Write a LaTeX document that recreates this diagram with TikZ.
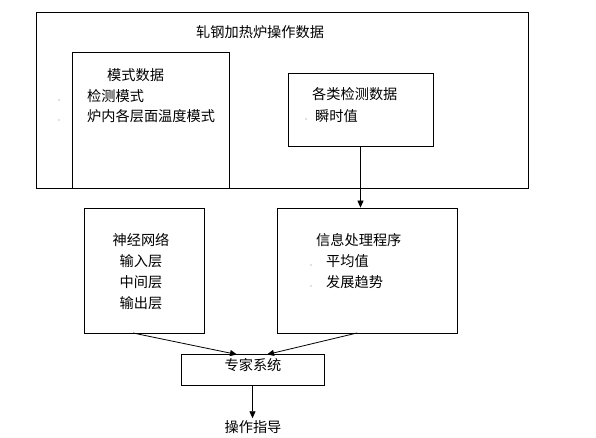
\documentclass[tikz,border=0pt]{standalone}
\usepackage{fontspec}
\setmainfont{Noto Sans CJK SC}
\usetikzlibrary{arrows.meta}
\begin{document}
\begin{tikzpicture}[x=1pt,y=-1pt,
  box/.style={draw,line width=0.8pt,rectangle,inner sep=0pt},
  txt/.style={inner sep=0pt,font=\fontsize{14.2}{16}\selectfont},
  dot/.style={circle,fill=gray,inner sep=0pt,minimum size=1.3pt},
  arr/.style={line width=0.8pt,-{Triangle[length=7pt,width=6pt]}}]
\useasboundingbox (0,0) rectangle (596,438);
\fill[white] (0,0) rectangle (596,438);
% boxes
\node[box,minimum width=492pt,minimum height=176pt] (outer) at (282,100) {};
\node[box,minimum width=157pt,minimum height=136pt] (mode) at (150.5,120) {};
\node[box,minimum width=145pt,minimum height=73pt] (detect) at (360.5,109.5) {};
\node[box,minimum width=120pt,minimum height=125pt] (neural) at (144,270.5) {};
\node[box,minimum width=180pt,minimum height=125pt] (info) at (367,270.5) {};
\node[box,minimum width=143pt,minimum height=31pt] (expert) at (252.5,369.5) {};
% texts
\node[txt,anchor=west] (t0) at (196,32) {轧钢加热炉操作数据};
\node[txt,anchor=west] (m0) at (107,75) {模式数据};
\node[txt,anchor=west] (m1) at (87,96) {检测模式};
\node[txt,anchor=west] (m2) at (87,116) {炉内各层面温度模式};
\node[dot] (md1) at (59,100) {};
\node[dot] (md2) at (59,120) {};
\node[txt,anchor=west] (d0) at (312,94) {各类检测数据};
\node[txt,anchor=west] (d1) at (315,116) {瞬时值};
\node[dot] (dd1) at (306,119) {};
\node[txt] (n0) at (141,240) {神经网络};
\node[txt] (n1) at (141,261) {输入层};
\node[txt] (n2) at (141,282) {中间层};
\node[txt] (n3) at (141,303) {输出层};
\node[txt,anchor=west] (i0) at (316,240) {信息处理程序};
\node[txt,anchor=west] (i1) at (326,261) {平均值};
\node[txt,anchor=west] (i2) at (326,282) {发展趋势};
\node[dot] (id1) at (311,265) {};
\node[dot] (id2) at (311,286) {};
\node[txt] (e0) at (253,365) {专家系统};
\node[txt,inner sep=2pt] (guide) at (253,427) {操作指导};
% connectors
\coordinate (ns) at (133,333);
\coordinate (et1) at (237,354.5);
\coordinate (is) at (357,333);
\coordinate (et2) at (267,354.5);
\draw[arr] (detect.south) -- (detect.south |- info.north);
\draw[arr] (ns) -- (et1);
\draw[arr] (is) -- (et2);
\draw[arr] (expert.south) -- (expert.south |- guide.north);
\end{tikzpicture}
\end{document}
